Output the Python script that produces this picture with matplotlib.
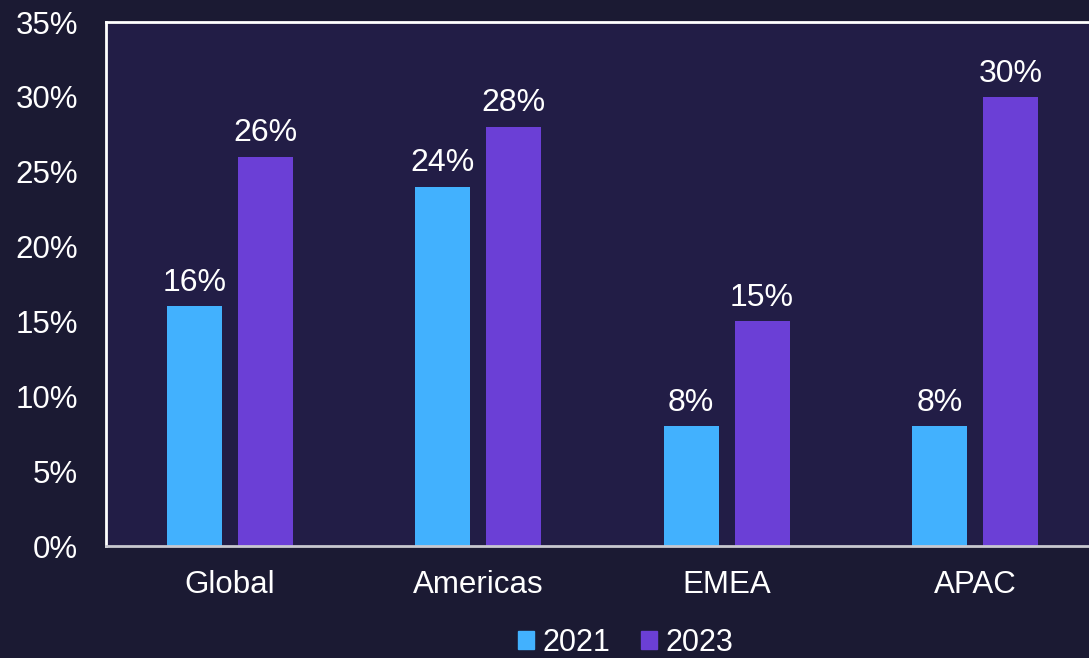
import matplotlib
matplotlib.use("Agg")
import matplotlib.pyplot as plt
import numpy as np
from matplotlib.patches import Patch

categories = ["Global", "Americas", "EMEA", "APAC"]
series_names = ["2021", "2023"]
values_2021 = [16, 24, 8, 8]
values_2023 = [26, 28, 15, 30]
yticks = [0, 5, 10, 15, 20, 25, 30, 35]

plt.rcParams["font.family"] = ["Liberation Sans", "DejaVu Sans"]

fig_bg = "#1b1a33"
ax_bg = "#221d46"
c2021 = "#42b1fe"
c2023 = "#6b3fd6"

fig = plt.figure(figsize=(10.89, 6.58), dpi=100, facecolor=fig_bg)
left = 106 / 1089
right = 1099 / 1089
top = 1 - 22 / 658
bottom = 1 - 546 / 658
ax = fig.add_axes([left, bottom, right - left, top - bottom])
ax.set_facecolor(ax_bg)

x = np.arange(len(categories))
w = 0.221
off = 0.143
b1 = ax.bar(x - off, values_2021, w, color=c2021)
b2 = ax.bar(x + off, values_2023, w, color=c2023)

for bars, vals in ((b1, values_2021), (b2, values_2023)):
    for rect, v in zip(bars, vals):
        ax.annotate(f"{v}%", (rect.get_x() + rect.get_width() / 2, v),
                    xytext=(0, 6), textcoords="offset points",
                    ha="center", va="bottom", color="white", fontsize=23)

ax.set_xlim(-0.5, 3.5)
ax.set_ylim(0, 35)
ax.set_yticks(yticks)
ax.set_yticklabels([f"{t}%" for t in yticks])
ax.set_xticks(x)
ax.set_xticklabels(categories)
ax.tick_params(axis="y", length=0, pad=20, labelsize=22.5, labelcolor="white")
ax.tick_params(axis="x", length=0, pad=17, labelsize=22.5, labelcolor="white")

for s in ["top", "left"]:
    ax.spines[s].set_color("white")
    ax.spines[s].set_linewidth(2)
ax.spines["bottom"].set_color("#c8c8d0")
ax.spines["bottom"].set_linewidth(2)
ax.spines["right"].set_visible(False)

handles = [Patch(color=c2021, label=series_names[0]), Patch(color=c2023, label=series_names[1])]
leg = fig.legend(handles=handles, loc="center", bbox_to_anchor=(626 / 1089, 1 - 643 / 658),
                 ncol=2, frameon=False, fontsize=22, labelcolor="white",
                 handlelength=0.5, handleheight=0.5, handletextpad=0.3, columnspacing=1.0,
                 borderaxespad=0, borderpad=0)

fig.savefig("out.png", dpi=100, facecolor=fig_bg)
